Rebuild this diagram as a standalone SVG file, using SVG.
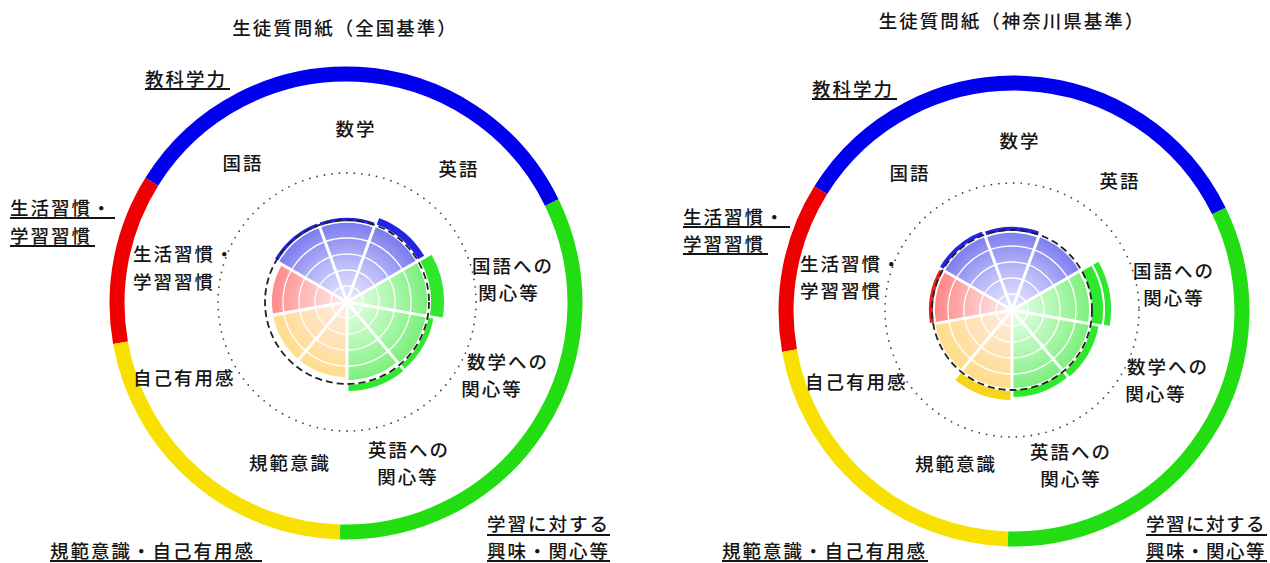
<svg xmlns="http://www.w3.org/2000/svg" width="1270" height="563" viewBox="0 0 1270 563">
<style>
text{font-family:"Noto Sans CJK JP","Noto Sans CJK SC",sans-serif;font-size:18.5px;fill:#151515;font-weight:500;letter-spacing:2px;dominant-baseline:central}
.mid{text-anchor:middle}
.tight{letter-spacing:1.5px}
.ul{stroke:#151515;stroke-width:2}
.ring{fill:none;stroke-width:15}
.sep{stroke:#fff;stroke-width:3}
.grid{fill:none;stroke:#fff;stroke-width:1.3}
.band{fill:none}
.bb{stroke:#2323e6}
.bg{stroke:#2ee82e}
.by{stroke:#f6d51e}
.br{stroke:#e42020}
.dash{fill:none;stroke:#222;stroke-width:1.8;stroke-dasharray:7 4}
.dots{fill:none;stroke:#444;stroke-width:1.8;stroke-linecap:round;stroke-dasharray:0 7.5}
</style>
<defs>
<radialGradient id="gB" cx="0" cy="0" r="82" gradientUnits="userSpaceOnUse"><stop offset="0" stop-color="#ececff"/><stop offset="0.5" stop-color="#b8b8fa"/><stop offset="1" stop-color="#7878ee"/></radialGradient>
<radialGradient id="gG" cx="0" cy="0" r="82" gradientUnits="userSpaceOnUse"><stop offset="0" stop-color="#eaffea"/><stop offset="0.5" stop-color="#b4f8b4"/><stop offset="1" stop-color="#78ee78"/></radialGradient>
<radialGradient id="gY" cx="0" cy="0" r="82" gradientUnits="userSpaceOnUse"><stop offset="0" stop-color="#ffece6"/><stop offset="0.5" stop-color="#ffe2b8"/><stop offset="1" stop-color="#ffdc84"/></radialGradient>
<radialGradient id="gR" cx="0" cy="0" r="82" gradientUnits="userSpaceOnUse"><stop offset="0" stop-color="#ffecec"/><stop offset="0.5" stop-color="#ffbcbc"/><stop offset="1" stop-color="#ff8080"/></radialGradient>
</defs>

<!-- ===== Left chart: national ===== -->
<g id="chart-national">
  <text id="title-national" class="mid" x="345" y="27">生徒質問紙（全国基準）</text>
  <g id="ring-national" transform="translate(346,303)">
    <path class="ring" stroke="#0000ee" d="M205.8,-100.4 A229,229 0 0 0 -194.2,-121.3"/>
    <path class="ring" stroke="#ee0000" d="M-194.2,-121.3 A229,229 0 0 0 -225.5,39.8"/>
    <path class="ring" stroke="#f8e000" d="M-225.5,39.8 A229,229 0 0 0 -6,228.9"/>
    <path class="ring" stroke="#22dd11" d="M-6,228.9 A229,229 0 0 0 205.8,-100.4"/>
  </g>
  <g id="radar-national" transform="translate(347,302)">
    <circle class="dots" r="129"/>
    <path id="n-kokugo" fill="url(#gB)" transform="rotate(-40)" d="M0,0 L-27.02,-74.24 A79,79 0 0 1 27.02,-74.24Z"/>
    <path id="n-sugaku" fill="url(#gB)" d="M0,0 L-27.02,-74.24 A79,79 0 0 1 27.02,-74.24Z"/>
    <path id="n-eigo" fill="url(#gB)" transform="rotate(40)" d="M0,0 L-27.36,-75.18 A80,80 0 0 1 27.36,-75.18Z"/>
    <path id="n-kokugo-int" fill="url(#gG)" transform="rotate(80)" d="M0,0 L-27.36,-75.18 A80,80 0 0 1 27.36,-75.18Z"/>
    <path id="n-sugaku-int" fill="url(#gG)" transform="rotate(120)" d="M0,0 L-27.36,-75.18 A80,80 0 0 1 27.36,-75.18Z"/>
    <path id="n-eigo-int" fill="url(#gG)" transform="rotate(160)" d="M0,0 L-26.68,-73.30 A78,78 0 0 1 26.68,-73.30Z"/>
    <path id="n-kihan" fill="url(#gY)" transform="rotate(200)" d="M0,0 L-25.65,-70.48 A75,75 0 0 1 25.65,-70.48Z"/>
    <path id="n-jiko" fill="url(#gY)" transform="rotate(240)" d="M0,0 L-25.65,-70.48 A75,75 0 0 1 25.65,-70.48Z"/>
    <path id="n-seikatsu" fill="url(#gR)" transform="rotate(-80)" d="M0,0 L-25.65,-70.48 A75,75 0 0 1 25.65,-70.48Z"/>
    <g class="gridrings">
      <circle class="grid" r="16"/><circle class="grid" r="32"/><circle class="grid" r="48"/><circle class="grid" r="64"/>
    </g>
    <g class="bands">
      <path class="band bb" stroke-width="3.5" transform="rotate(-40)" d="M-28.13,-77.29 A82.25,82.25 0 0 1 28.13,-77.29"/>
      <path class="band bb" stroke-width="3.5" d="M-28.13,-77.29 A82.25,82.25 0 0 1 28.13,-77.29"/>
      <path class="band bb" stroke-width="7" transform="rotate(40)" d="M-29.58,-81.28 A86.5,86.5 0 0 1 29.58,-81.28"/>
      <path class="band bg" stroke-width="13" transform="rotate(80)" d="M-30.95,-85.04 A90.5,90.5 0 0 1 30.95,-85.04"/>
      <path class="band bg" stroke-width="5" transform="rotate(120)" d="M-29.24,-80.34 A85.5,85.5 0 0 1 29.24,-80.34"/>
      <path class="band bg" stroke-width="6" transform="rotate(160)" d="M-29.41,-80.81 A86,86 0 0 1 29.41,-80.81"/>
    </g>
    <g class="seps">
      <line class="sep" x1="0" y1="0" x2="86.6" y2="-50"/>
      <line class="sep" x1="0" y1="0" x2="34.2" y2="-93.97"/>
      <line class="sep" x1="0" y1="0" x2="-34.2" y2="-93.97"/>
      <line class="sep" x1="0" y1="0" x2="-86.6" y2="-50"/>
      <line class="sep" x1="0" y1="0" x2="-98.48" y2="17.36"/>
      <line class="sep" x1="0" y1="0" x2="-64.28" y2="76.6"/>
      <line class="sep" x1="0" y1="0" x2="0" y2="100"/>
      <line class="sep" x1="0" y1="0" x2="64.28" y2="76.6"/>
      <line class="sep" x1="0" y1="0" x2="98.48" y2="17.36"/>
    </g>
    <circle class="dash" r="82"/>
  </g>
  <g id="labels-national">
    <text class="mid" x="356" y="128">数学</text>
    <text class="mid" x="243" y="162">国語</text>
    <text class="mid" x="459" y="168">英語</text>
    <text class="mid" x="513" y="265">国語への</text>
    <text class="mid" x="509" y="292">関心等</text>
    <text class="mid" x="508" y="361">数学への</text>
    <text class="mid" x="492" y="388">関心等</text>
    <text class="mid" x="409" y="449">英語への</text>
    <text class="mid" x="408" y="476">関心等</text>
    <text class="mid" x="290" y="462">規範意識</text>
    <text x="133" y="377">自己有用感</text>
    <text x="133" y="253">生活習慣・</text>
    <text x="133" y="281">学習習慣</text>
  </g>
  <g id="categories-national">
    <text x="145" y="78">教科学力</text><line class="ul" x1="145" y1="89" x2="230" y2="89"/>
    <text x="10" y="207">生活習慣・</text><line class="ul" x1="10" y1="218" x2="115" y2="218"/>
    <text x="10" y="235">学習習慣</text><line class="ul" x1="10" y1="246" x2="95" y2="246"/>
    <text x="50" y="550">規範意識・自己有用感</text><line class="ul" x1="50" y1="561" x2="262" y2="561"/>
    <text x="487" y="523">学習に対する</text><line class="ul" x1="487" y1="535" x2="610" y2="535"/>
    <text x="487" y="550">興味・関心等</text><line class="ul" x1="487" y1="561" x2="610" y2="561"/>
  </g>
</g>

<!-- ===== Right chart: Kanagawa ===== -->
<g id="chart-kanagawa">
  <text id="title-kanagawa" class="mid" x="1012" y="20">生徒質問紙（神奈川県基準）</text>
  <g id="ring-kanagawa" transform="translate(1014,311)">
    <path class="ring" stroke="#0000ee" d="M204.9,-99.95 A228,228 0 0 0 -193.3,-120.8"/>
    <path class="ring" stroke="#ee0000" d="M-193.3,-120.8 A228,228 0 0 0 -224.5,39.6"/>
    <path class="ring" stroke="#f8e000" d="M-224.5,39.6 A228,228 0 0 0 -5.97,227.9"/>
    <path class="ring" stroke="#22dd11" d="M-5.97,227.9 A228,228 0 0 0 204.9,-99.95"/>
  </g>
  <g id="radar-kanagawa" transform="translate(1012,310)">
    <circle class="dots" r="127"/>
    <path id="k-kokugo" fill="url(#gB)" transform="rotate(-40)" d="M0,0 L-26.68,-73.30 A78,78 0 0 1 26.68,-73.30Z"/>
    <path id="k-sugaku" fill="url(#gB)" d="M0,0 L-26.33,-72.36 A77,77 0 0 1 26.33,-72.36Z"/>
    <path id="k-eigo" fill="url(#gB)" transform="rotate(40)" d="M0,0 L-26.68,-73.30 A78,78 0 0 1 26.68,-73.30Z"/>
    <path id="k-kokugo-int" fill="url(#gG)" transform="rotate(80)" d="M0,0 L-26.33,-72.36 A77,77 0 0 1 26.33,-72.36Z"/>
    <path id="k-sugaku-int" fill="url(#gG)" transform="rotate(120)" d="M0,0 L-26.68,-73.30 A78,78 0 0 1 26.68,-73.30Z"/>
    <path id="k-eigo-int" fill="url(#gG)" transform="rotate(160)" d="M0,0 L-26.68,-73.30 A78,78 0 0 1 26.68,-73.30Z"/>
    <path id="k-kihan" fill="url(#gY)" transform="rotate(200)" d="M0,0 L-26.68,-73.30 A78,78 0 0 1 26.68,-73.30Z"/>
    <path id="k-jiko" fill="url(#gY)" transform="rotate(240)" d="M0,0 L-26.68,-73.30 A78,78 0 0 1 26.68,-73.30Z"/>
    <path id="k-seikatsu" fill="url(#gR)" transform="rotate(-80)" d="M0,0 L-26.33,-72.36 A77,77 0 0 1 26.33,-72.36Z"/>
    <g class="gridrings">
      <circle class="grid" r="16"/><circle class="grid" r="32"/><circle class="grid" r="48"/><circle class="grid" r="64"/>
    </g>
    <g class="bands">
      <path class="band bb" stroke-width="4" transform="rotate(-40)" d="M-28.04,-77.06 A82,82 0 0 1 28.04,-77.06"/>
      <path class="band bb" stroke-width="4" d="M-27.70,-76.12 A81,81 0 0 1 27.70,-76.12"/>
      <path class="band bg" stroke-width="11" transform="rotate(80)" d="M-29.24,-80.34 A85.5,85.5 0 0 1 29.24,-80.34"/>
      <path class="band bg" stroke-width="6" transform="rotate(80)" d="M-32.83,-90.21 A96,96 0 0 1 32.83,-90.21"/>
      <path class="band bg" stroke-width="7" transform="rotate(120)" d="M-28.90,-79.40 A84.5,84.5 0 0 1 28.90,-79.40"/>
      <path class="band bg" stroke-width="7" transform="rotate(160)" d="M-28.56,-78.47 A83.5,83.5 0 0 1 28.56,-78.47"/>
      <path class="band by" stroke-width="9" transform="rotate(200)" d="M-29.24,-80.34 A85.5,85.5 0 0 1 29.24,-80.34"/>
      <path class="band br" stroke-width="4" transform="rotate(-80)" d="M-27.70,-76.12 A81,81 0 0 1 27.70,-76.12"/>
    </g>
    <g class="seps">
      <line class="sep" x1="0" y1="0" x2="86.6" y2="-50"/>
      <line class="sep" x1="0" y1="0" x2="34.2" y2="-93.97"/>
      <line class="sep" x1="0" y1="0" x2="-34.2" y2="-93.97"/>
      <line class="sep" x1="0" y1="0" x2="-86.6" y2="-50"/>
      <line class="sep" x1="0" y1="0" x2="-98.48" y2="17.36"/>
      <line class="sep" x1="0" y1="0" x2="-64.28" y2="76.6"/>
      <line class="sep" x1="0" y1="0" x2="0" y2="100"/>
      <line class="sep" x1="0" y1="0" x2="64.28" y2="76.6"/>
      <line class="sep" x1="0" y1="0" x2="98.48" y2="17.36"/>
    </g>
    <circle class="dash" r="80"/>
  </g>
  <g id="labels-kanagawa">
    <text class="mid" x="1020" y="140">数学</text>
    <text class="mid" x="910" y="172">国語</text>
    <text class="mid" x="1120" y="180">英語</text>
    <text class="mid" x="1174" y="270">国語への</text>
    <text class="mid" x="1174" y="297">関心等</text>
    <text class="mid" x="1168" y="366">数学への</text>
    <text class="mid" x="1156" y="393">関心等</text>
    <text class="mid" x="1071" y="451">英語への</text>
    <text class="mid" x="1071" y="478">関心等</text>
    <text class="mid" x="956" y="463">規範意識</text>
    <text x="805" y="381">自己有用感</text>
    <text x="800" y="263">生活習慣・</text>
    <text x="800" y="290">学習習慣</text>
  </g>
  <g id="categories-kanagawa">
    <text x="812" y="88">教科学力</text><line class="ul" x1="812" y1="99" x2="897" y2="99"/>
    <text x="683" y="216">生活習慣・</text><line class="ul" x1="683" y1="227" x2="790" y2="227"/>
    <text x="683" y="243">学習習慣</text><line class="ul" x1="683" y1="254" x2="768" y2="254"/>
    <text x="722" y="550">規範意識・自己有用感</text><line class="ul" x1="722" y1="561" x2="928" y2="561"/>
    <text class="tight" x="1146" y="523">学習に対する</text><line class="ul" x1="1146" y1="535" x2="1267" y2="535"/>
    <text class="tight" x="1146" y="550">興味・関心等</text><line class="ul" x1="1146" y1="561" x2="1267" y2="561"/>
  </g>
</g>
</svg>
